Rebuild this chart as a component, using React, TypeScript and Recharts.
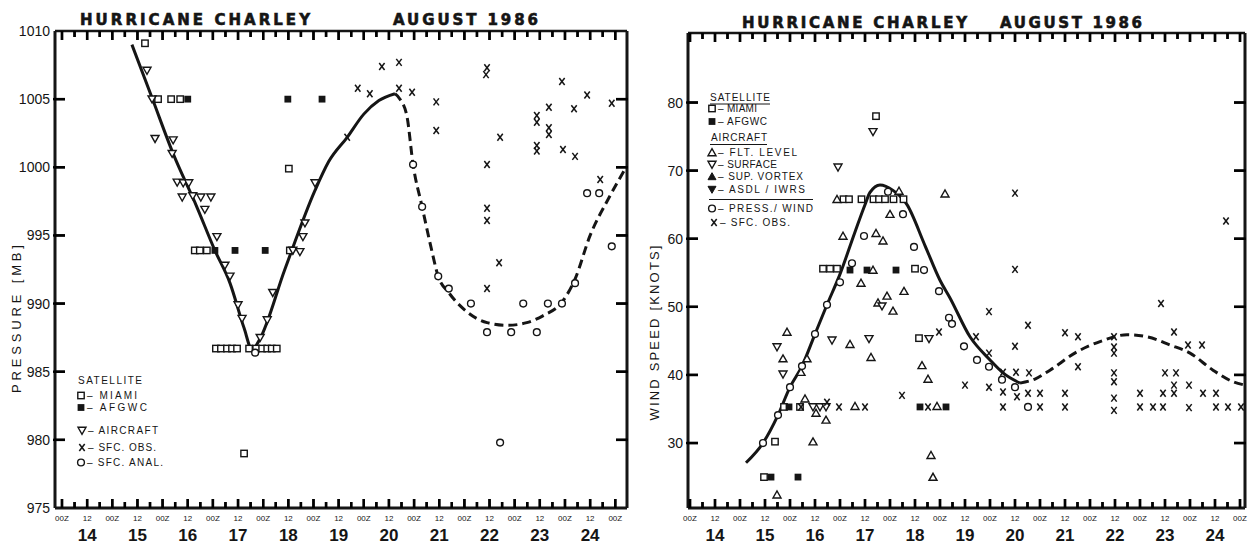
import React from 'react';
import { ComposedChart, Scatter, Line, XAxis, YAxis } from 'recharts';

type P = [number, number];

// Left panel: minimum central pressure (mb), x = day of August 1986
const pMiami: P[] = [
  [15.65, 1009.1], [15.91, 1005.0], [16.17, 1005.0], [16.35, 1005.0],
  [16.64, 993.9], [16.74, 993.9], [16.88, 993.9], [18.53, 993.9], [18.51, 999.9],
  [17.06, 986.7], [17.16, 986.7], [17.28, 986.7], [17.38, 986.7], [17.48, 986.7],
  [17.72, 986.7], [17.86, 986.7], [17.98, 986.7], [18.08, 986.7], [18.17, 986.7], [18.27, 986.7],
  [17.62, 979.0],
];
const pAfgwc: P[] = [
  [16.5, 1005.0], [18.49, 1005.0], [19.17, 1005.0], [17.04, 993.9], [17.44, 993.9], [18.04, 993.9],
];
const pAircraft: P[] = [
  [15.69, 1007.1], [15.79, 1005.0], [15.85, 1002.1], [16.21, 1002.0], [16.19, 1001.0],
  [16.29, 998.9], [16.41, 998.85], [16.52, 998.85], [16.39, 997.8], [16.6, 997.9],
  [16.76, 997.8], [16.96, 997.8], [16.84, 996.9], [17.08, 994.9], [17.24, 992.8],
  [17.34, 992.0], [17.5, 989.9], [17.58, 988.9], [17.94, 987.5], [18.08, 988.8],
  [18.19, 990.8], [18.59, 993.9], [18.73, 993.8], [18.79, 994.9], [18.83, 995.9], [19.03, 998.85],
];
const pSfcObs: P[] = [
  [19.67, 1002.2], [19.88, 1005.8], [20.12, 1005.4], [20.36, 1007.4], [20.7, 1007.7],
  [20.7, 1005.8], [20.96, 1005.5], [21.44, 1004.8], [21.44, 1002.7], [22.45, 1007.3],
  [22.43, 1006.8], [22.71, 1002.2], [22.45, 1000.2], [22.45, 997.0], [22.45, 996.1],
  [22.69, 993.0], [22.45, 991.1], [23.94, 1006.3], [24.44, 1005.3], [24.93, 1004.7],
  [23.68, 1004.4], [24.18, 1004.3], [23.44, 1003.8], [23.44, 1003.3], [23.68, 1002.9],
  [23.68, 1002.4], [23.44, 1001.6], [23.44, 1001.2], [23.96, 1001.3], [24.2, 1000.8], [24.7, 999.1],
];
const pSfcAnal: P[] = [
  [17.84, 986.4], [20.98, 1000.2], [21.16, 997.1], [21.48, 992.0], [21.69, 991.1],
  [22.13, 990.0], [22.45, 987.9], [22.93, 987.9], [23.17, 990.0], [23.44, 987.9],
  [23.66, 990.0], [23.94, 990.0], [24.2, 991.5], [22.71, 979.8], [24.44, 998.1],
  [24.68, 998.1], [24.93, 994.2],
];
const pBestSolid: P[] = [
  [15.39, 1009.0], [15.79, 1005.1], [16.21, 1001.0], [16.68, 997.1], [17.04, 993.9],
  [17.34, 991.5], [17.62, 988.2], [17.78, 986.6], [17.92, 987.3], [18.43, 992.5],
  [19.03, 998.3], [19.3, 1000.4], [19.67, 1002.2], [20.0, 1003.9], [20.3, 1004.9], [20.62, 1005.4],
];
const pBestDashed: P[] = [
  [20.62, 1005.4], [20.72, 1005.0], [20.86, 1003.7], [20.98, 1000.2], [21.16, 997.1],
  [21.32, 994.4], [21.48, 992.0], [21.69, 990.8], [22.05, 989.4], [22.45, 988.6],
  [22.85, 988.4], [23.24, 988.6], [23.56, 989.1], [23.96, 990.2], [24.2, 991.8],
  [24.5, 995.0], [24.85, 997.6], [25.2, 999.9],
];

// Right panel: maximum wind speed (knots)
const wMiami: P[] = [
  [17.72, 78.0], [17.07, 65.8], [17.18, 65.8], [17.43, 65.8], [17.67, 65.8], [17.78, 65.8],
  [17.9, 65.8], [18.07, 65.8], [18.27, 65.8], [16.66, 55.6], [16.8, 55.6], [16.94, 55.6],
  [18.5, 55.6], [18.58, 45.4], [15.7, 30.2], [15.48, 25.0], [15.88, 35.3], [16.2, 35.3],
];
const wAfgwc: P[] = [
  [17.2, 55.4], [17.54, 55.4], [18.12, 55.4], [18.6, 35.3], [19.12, 35.3],
  [15.62, 25.0], [16.16, 25.0], [15.98, 35.3],
];
const wFltLevel: P[] = [
  [19.1, 66.6], [16.94, 65.8], [18.18, 67.0], [18.0, 63.6], [17.06, 60.4], [17.72, 60.8],
  [17.86, 59.7], [17.66, 55.4], [17.42, 53.5], [18.28, 52.3], [17.94, 51.6], [17.76, 50.6],
  [18.06, 49.4], [15.94, 46.3], [17.2, 44.5], [15.86, 42.4], [16.34, 42.4], [17.62, 42.6],
  [18.64, 41.4], [18.76, 39.4], [16.3, 36.5], [17.3, 35.4], [18.94, 35.4], [16.52, 34.4],
  [16.72, 33.4], [16.46, 30.2], [18.82, 28.2], [18.86, 25.0], [15.74, 22.4], [16.22, 40.4],
];
const wSurface: P[] = [
  [17.66, 75.7], [16.96, 70.5], [17.84, 50.1], [16.84, 45.1], [17.58, 45.3], [18.78, 45.3],
  [15.74, 44.1], [15.86, 40.1], [16.46, 35.3], [16.6, 35.3], [16.72, 35.3],
];
const wPressWind: P[] = [
  [17.96, 66.9], [18.26, 63.6], [17.48, 60.4], [18.48, 58.8], [17.24, 56.4], [18.68, 55.4],
  [17.0, 53.6], [18.98, 52.3], [16.74, 50.3], [19.18, 48.4], [19.24, 47.5], [16.5, 46.0],
  [16.24, 41.3], [16.0, 38.2], [15.76, 34.1], [15.46, 30.0], [19.48, 44.2], [19.74, 42.2],
  [19.98, 41.2], [20.24, 39.3], [20.5, 38.2], [20.76, 35.3],
];
const wSfcObs: P[] = [
  [18.98, 46.3], [18.24, 37.0], [16.74, 36.0], [16.98, 35.3], [17.5, 35.3], [18.76, 35.3],
  [16.22, 35.3], [19.72, 45.6], [19.98, 49.3], [20.5, 55.5], [20.5, 66.7], [20.76, 47.3],
  [20.5, 44.2], [19.98, 43.2], [19.5, 38.5], [19.98, 38.2], [20.26, 40.4], [20.52, 40.4],
  [20.78, 40.3], [20.26, 37.5], [20.54, 36.8], [20.76, 37.3], [21.0, 37.3], [20.26, 35.3],
  [21.0, 35.3], [21.5, 46.2], [21.76, 45.6], [21.76, 41.2], [21.5, 37.3], [21.5, 35.3],
  [22.48, 45.6], [22.48, 44.1], [22.48, 43.2], [22.48, 40.3], [22.48, 39.0], [22.48, 36.6],
  [22.48, 34.8], [23.0, 37.3], [23.0, 35.3], [23.26, 35.3], [23.46, 37.3], [23.46, 35.3],
  [23.5, 40.3], [23.72, 40.3], [23.68, 38.5], [23.68, 37.3], [23.42, 50.5], [23.68, 46.3],
  [23.96, 44.4], [24.24, 44.4], [23.98, 38.5], [23.98, 35.2], [24.26, 37.3], [24.52, 37.3],
  [24.52, 35.3], [24.76, 35.3], [25.02, 35.3], [24.72, 62.6],
];
const wBestSolid: P[] = [
  [15.12, 27.1], [15.46, 30.0], [15.76, 34.1], [16.0, 38.2], [16.24, 41.3], [16.5, 46.0],
  [16.74, 50.3], [17.0, 54.8], [17.3, 61.0], [17.5, 65.0], [17.6, 66.8], [17.8, 67.9],
  [18.06, 67.1], [18.34, 65.0], [18.7, 59.0], [19.0, 53.9], [19.2, 51.3], [19.6, 45.6],
  [20.0, 42.2], [20.26, 40.3], [20.6, 38.8],
];
const wBestDashed: P[] = [
  [20.6, 38.8], [20.9, 39.4], [21.2, 40.7], [21.74, 43.4], [22.2, 44.9], [22.74, 45.9],
  [23.14, 45.6], [23.6, 44.4], [24.0, 43.2], [24.46, 40.7], [24.86, 39.0], [25.1, 38.5],
];

const dayLabels = ['14', '15', '16', '17', '18', '19', '20', '21', '22', '23', '24'];
const pressureTicks = [975, 980, 985, 990, 995, 1000, 1005, 1010];
const pressureInner = [980, 985, 990, 995, 1000, 1005];
const windTicks = [30, 40, 50, 60, 70, 80];

const INK = '#151515';
const FONT = '"Liberation Sans", Arial, sans-serif';

const xy = (a: P[]) => a.map(([x, y]) => ({ x, y }));

// 6-hourly tick positions, 14 Aug 00Z .. 25 Aug 00Z
const sixHourly: number[] = [];
for (let i = 0; i <= 44; i++) sixHourly.push(14 + i / 4);

type Geo = { ox: number; w: number; top: number; bottom: number; yAxisW: number; rightW: number; xd: [number, number]; yd: [number, number] };
const LEFT: Geo = { ox: 0, w: 640, top: 31, bottom: 508, yAxisW: 55, rightW: 13, xd: [13.861, 25.233], yd: [975, 1010] };
const RIGHT: Geo = { ox: 640, w: 608, top: 33, bottom: 508, yAxisW: 48, rightW: 3, xd: [13.96, 25.1], yd: [20.46, 90.21] };

function Marker({ kind, cx, cy }: { kind: string; cx: number; cy: number }) {
  if (cx == null || cy == null) return null;
  switch (kind) {
    case 'sq':
      return <rect x={cx - 3.2} y={cy - 3.2} width={6.4} height={6.4} fill="#fff" stroke={INK} strokeWidth={1.4} />;
    case 'sqf':
      return <rect x={cx - 3.4} y={cy - 3.4} width={6.8} height={6.8} fill={INK} />;
    case 'tdown':
      return <path d={`M${cx - 4},${cy - 3.2} L${cx + 4},${cy - 3.2} L${cx},${cy + 3.8} Z`} fill="#fff" stroke={INK} strokeWidth={1.4} />;
    case 'tdownf':
      return <path d={`M${cx - 4},${cy - 3.2} L${cx + 4},${cy - 3.2} L${cx},${cy + 3.8} Z`} fill={INK} stroke={INK} strokeWidth={1} />;
    case 'tup':
      return <path d={`M${cx - 4},${cy + 3.2} L${cx + 4},${cy + 3.2} L${cx},${cy - 3.8} Z`} fill="#fff" stroke={INK} strokeWidth={1.4} />;
    case 'tupf':
      return <path d={`M${cx - 4},${cy + 3.2} L${cx + 4},${cy + 3.2} L${cx},${cy - 3.8} Z`} fill={INK} stroke={INK} strokeWidth={1} />;
    case 'circ':
      return <circle cx={cx} cy={cy} r={3.4} fill="#fff" stroke={INK} strokeWidth={1.4} />;
    case 'x':
      return (
        <g stroke={INK} strokeWidth={1.5}>
          <line x1={cx - 2.7} y1={cy - 3.5} x2={cx + 2.7} y2={cy + 3.5} />
          <line x1={cx + 2.7} y1={cy - 3.5} x2={cx - 2.7} y2={cy + 3.5} />
        </g>
      );
    default:
      return null;
  }
}
const shape = (kind: string) => (p: any) => <Marker kind={kind} cx={p.cx} cy={p.cy} />;
const hidden = () => <g />;
const noLabel = () => <g />;

// frame tick marks drawn as scatter symbols sitting on the frame edges
const tickMark = (dx: number, dy: number, minorDx: number, minorDy: number) => (p: any) => {
  if (p.cx == null || p.cy == null) return <g />;
  const major = (p.payload ? p.payload.m : p.m) === 1;
  const ex = major ? dx : minorDx;
  const ey = major ? dy : minorDy;
  return <path d={`M${p.cx - Math.sign(ex) * 1.5},${p.cy - Math.sign(ey) * 1.5} L${p.cx + ex},${p.cy + ey}`} stroke="#000" strokeWidth={2.4} fill="none" />;
};
const timeTickData = (y: number) =>
  sixHourly.map((t) => ({ x: t, y, m: Math.round((t - Math.floor(t)) * 4) % 2 === 0 ? 1 : 0 }));
const valueTickData = (x: number, vals: number[]) => vals.map((v) => ({ x, y: v, m: 1 }));

function TimeLabel(p: any) {
  const x = Number(p.x);
  const y = Number(p.y);
  const v: number = p.payload.value;
  const q = Math.round((v - Math.floor(v)) * 4);
  const day = dayLabels[Math.floor(v) - 14];
  return (
    <g>
      {q === 0 && (
        <text x={x} y={y + 13} textAnchor="middle" fontSize={8} fontFamily={FONT} fill={INK}>00Z</text>
      )}
      {q === 2 && (
        <text x={x} y={y + 13} textAnchor="middle" fontSize={8} fontFamily={FONT} fill={INK}>12</text>
      )}
      {q === 2 && day && (
        <text x={x} y={y + 33} textAnchor="middle" fontSize={17} fontWeight="bold" fontFamily={FONT} fill={INK}>{day}</text>
      )}
    </g>
  );
}

function ValueLabel(p: any) {
  const x = Number(p.x);
  const y = Number(p.y);
  return (
    <text x={x - 5} y={y + 5} textAnchor="end" fontSize={14} fontFamily={FONT} fill={INK}>{p.payload.value}</text>
  );
}

function Panel({ g, yTicks, sideTicks, series, fits }: { g: Geo; yTicks: number[]; sideTicks: number[]; series: [P[], string][]; fits: [P[], P[]] }) {
  return (
    <ComposedChart width={g.w} height={546} margin={{ top: g.top - 1, right: 0, bottom: 0, left: 0 }}>
      <XAxis dataKey="x" type="number" domain={g.xd} allowDataOverflow ticks={sixHourly} interval={0}
        height={546 - g.bottom} tickLine={false} tickSize={0} tickMargin={0} tick={(p: any) => <TimeLabel {...p} />}
        axisLine={{ stroke: INK, strokeWidth: 3 }} />
      <XAxis xAxisId="t" orientation="top" dataKey="x" type="number" domain={g.xd} allowDataOverflow
        ticks={sixHourly} interval={0} height={1} tickLine={false} tickSize={0} tickMargin={0}
        tick={noLabel} axisLine={{ stroke: INK, strokeWidth: 2.5 }} />
      <YAxis dataKey="y" type="number" domain={g.yd} allowDataOverflow ticks={yTicks} interval={0}
        width={g.yAxisW} tickLine={false} tickSize={0} tickMargin={0} tick={(p: any) => <ValueLabel {...p} />}
        axisLine={{ stroke: INK, strokeWidth: 3 }} />
      <YAxis yAxisId="r" orientation="right" dataKey="y" type="number" domain={g.yd} allowDataOverflow
        ticks={yTicks} interval={0} width={g.rightW} tickLine={false} tickSize={0} tickMargin={0}
        tick={noLabel} axisLine={{ stroke: INK, strokeWidth: 3 }} />
      <Scatter xAxisId="t" yAxisId="r" data={xy(series[0][0])} shape={hidden} isAnimationActive={false} />
      <Scatter data={timeTickData(g.yd[0])} shape={tickMark(0, -9, 0, -6)} isAnimationActive={false} />
      <Scatter data={timeTickData(g.yd[1])} shape={tickMark(0, 9, 0, 6)} isAnimationActive={false} />
      <Scatter data={valueTickData(g.xd[0], sideTicks)} shape={tickMark(10, 0, 10, 0)} isAnimationActive={false} />
      <Scatter data={valueTickData(g.xd[1], sideTicks)} shape={tickMark(-11, 0, -11, 0)} isAnimationActive={false} />
      <Line data={xy(fits[0])} dataKey="y" type="monotone" stroke={INK} strokeWidth={3} dot={false} isAnimationActive={false} />
      <Line data={xy(fits[1])} dataKey="y" type="monotone" stroke={INK} strokeWidth={3} strokeDasharray="9 5" dot={false} isAnimationActive={false} />
      {series.map(([d, k], i) => (
        <Scatter key={i} data={xy(d)} shape={shape(k)} isAnimationActive={false} />
      ))}
    </ComposedChart>
  );
}

// fallback copy of the inward frame ticks, placed with the same panel geometry
function FrameTicks({ g, yTicks }: { g: Geo; yTicks: number[] }) {
  const x0 = g.ox + g.yAxisW;
  const x1 = g.ox + g.w - g.rightW;
  const sx = (t: number) => x0 + ((t - g.xd[0]) / (g.xd[1] - g.xd[0])) * (x1 - x0);
  const sy = (v: number) => g.bottom - ((v - g.yd[0]) / (g.yd[1] - g.yd[0])) * (g.bottom - g.top);
  const segs: number[][] = [];
  sixHourly.forEach((t) => {
    const q = Math.round((t - Math.floor(t)) * 4);
    const len = q % 2 === 0 ? 9 : 6;
    const x = sx(t);
    segs.push([x, g.bottom, x, g.bottom - len]);
    segs.push([x, g.top, x, g.top + len]);
  });
  yTicks.forEach((v) => {
    const y = sy(v);
    if (y < g.top + 2 || y > g.bottom - 2) return;
    segs.push([x0 - 2, y, x0 + 10, y]);
    segs.push([x1 - 11, y, x1 + 1, y]);
  });
  return (
    <g>
      {segs.map((s, i) => (
        <line key={i} x1={s[0]} y1={s[1]} x2={s[2]} y2={s[3]} stroke="#000" strokeWidth={2.4} />
      ))}
    </g>
  );
}

function LegendRow({ x, y, kind, label, len }: { x: number; y: number; kind: string; label: string; len: number }) {
  return (
    <g>
      <Marker kind={kind} cx={x + 3} cy={y - 3.5} />
      <text x={x + 9} y={y} fontSize={10} fontFamily={FONT} fill={INK} textLength={len} lengthAdjust="spacing">{label}</text>
    </g>
  );
}

function Overlay() {
  const title = {
    fontFamily: '"DejaVu Sans", sans-serif', fontWeight: 'bold' as const, fontSize: 15,
    fill: INK, stroke: INK, strokeWidth: 0.6,
  };
  return (
    <svg width={1248} height={546} style={{ position: 'absolute', left: 0, top: 0, pointerEvents: 'none' }}>
      <text x={80} y={25} {...title} textLength={230} lengthAdjust="spacing">HURRICANE CHARLEY</text>
      <text x={393} y={25} {...title} textLength={145} lengthAdjust="spacing">AUGUST 1986</text>
      <text x={742} y={28} {...title} textLength={225} lengthAdjust="spacing">HURRICANE CHARLEY</text>
      <text x={1000} y={28} {...title} textLength={142} lengthAdjust="spacing">AUGUST 1986</text>

      <text transform="translate(21,319) rotate(-90)" textAnchor="middle" fontSize={13} fontFamily={FONT} fill={INK}
        textLength={148} lengthAdjust="spacing">PRESSURE  [MB]</text>
      <text transform="translate(659,333) rotate(-90)" textAnchor="middle" fontSize={13} fontFamily={FONT} fill={INK}
        textLength={175} lengthAdjust="spacing">WIND SPEED  [KNOTS]</text>

      {/* left legend */}
      <text x={78} y={384} fontSize={10} fontFamily={FONT} fill={INK} textLength={64} lengthAdjust="spacing">SATELLITE</text>
      <LegendRow x={78} y={399} kind="sq" label="– MIAMI" len={50} />
      <LegendRow x={78} y={411} kind="sqf" label="– AFGWC" len={60} />
      <LegendRow x={79} y={434} kind="tdown" label="– AIRCRAFT" len={70} />
      <LegendRow x={79} y={451} kind="x" label="– SFC. OBS." len={68} />
      <LegendRow x={78} y={466} kind="circ" label="– SFC. ANAL." len={76} />

      {/* right legend */}
      <text x={710} y={101} fontSize={10} fontFamily={FONT} fill={INK} textLength={60} lengthAdjust="spacing">SATELLITE</text>
      <line x1={710} x2={770} y1={104} y2={104} stroke={INK} strokeWidth={1} />
      <LegendRow x={709} y={112} kind="sq" label="– MIAMI" len={39} />
      <LegendRow x={709} y={125} kind="sqf" label="– AFGWC" len={49} />
      <text x={711} y={141} fontSize={10} fontFamily={FONT} fill={INK} textLength={56} lengthAdjust="spacing">AIRCRAFT</text>
      <line x1={710} x2={767} y1={144.5} y2={144.5} stroke={INK} strokeWidth={1} />
      <LegendRow x={709} y={156} kind="tup" label="– FLT. LEVEL" len={79} />
      <LegendRow x={709} y={168} kind="tdown" label="– SURFACE" len={59} />
      <LegendRow x={709} y={180} kind="tupf" label="– SUP. VORTEX" len={85} />
      <LegendRow x={709} y={193} kind="tdownf" label="– ASDL / IWRS" len={87} />
      <line x1={709} x2={813} y1={199.5} y2={199.5} stroke={INK} strokeWidth={1.2} />
      <LegendRow x={709} y={212} kind="circ" label="– PRESS./ WIND" len={95} />
      <LegendRow x={711} y={226} kind="x" label="– SFC. OBS." len={70} />

      <FrameTicks g={LEFT} yTicks={pressureInner} />
      <FrameTicks g={RIGHT} yTicks={windTicks} />
    </svg>
  );
}

export default function App() {
  return (
    <div style={{ position: 'absolute', left: 0, top: 0, width: 1248, height: 546, background: '#fff', overflow: 'hidden' }}>
      <div style={{ position: 'absolute', left: LEFT.ox, top: 0 }}>
        <Panel g={LEFT} yTicks={pressureTicks} sideTicks={pressureInner}
          series={[[pMiami, 'sq'], [pAfgwc, 'sqf'], [pAircraft, 'tdown'], [pSfcObs, 'x'], [pSfcAnal, 'circ']]}
          fits={[pBestSolid, pBestDashed]} />
      </div>
      <div style={{ position: 'absolute', left: RIGHT.ox, top: 0 }}>
        <Panel g={RIGHT} yTicks={windTicks} sideTicks={windTicks}
          series={[[wMiami, 'sq'], [wAfgwc, 'sqf'], [wFltLevel, 'tup'], [wSurface, 'tdown'], [wPressWind, 'circ'], [wSfcObs, 'x']]}
          fits={[wBestSolid, wBestDashed]} />
      </div>
      <Overlay />
    </div>
  );
}
